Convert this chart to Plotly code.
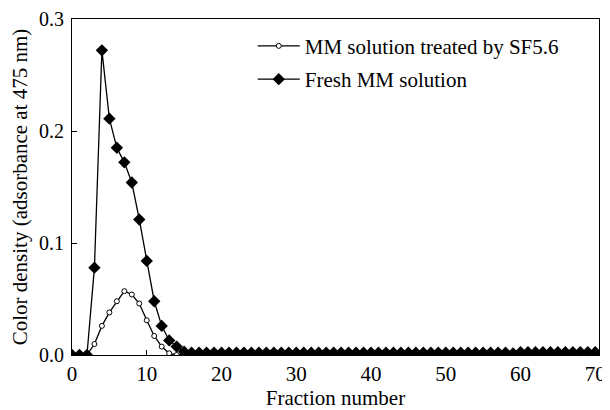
import plotly.graph_objects as go

fractions = list(range(0, 71))

fresh_head = [0.0, 0.0, 0.0, 0.078, 0.272, 0.211, 0.185, 0.172, 0.154, 0.121,
              0.084, 0.048, 0.026, 0.013, 0.0075, 0.003]
fresh_tail = [0.002] * (59 - 16) + [0.0015] + [0.0025] * 11
fresh = fresh_head + fresh_tail

treated_head = [0.0, 0.0, 0.0, 0.0098, 0.026, 0.038, 0.048, 0.057, 0.054, 0.046,
                0.031, 0.017, 0.0075, 0.0015, 0.0, 0.001]
treated_tail = [0.002] * (59 - 16) + [0.001] + [0.002] * 11
treated = treated_head + treated_tail

x_ticks = [0, 10, 20, 30, 40, 50, 60, 70]
y_ticks = [0.0, 0.1, 0.2, 0.3]
y_tick_text = ["0.0", "0.1", "0.2", "0.3"]

font = "Liberation Serif, Times New Roman, serif"

fig = go.Figure()
fig.add_trace(go.Scatter(
    x=fractions, y=treated, mode="lines+markers",
    name="MM solution treated by SF5.6", legendgroup="a",
    line=dict(color="black", width=1.3),
    marker=dict(symbol="circle", size=5, color="white",
                line=dict(color="black", width=1)),
))
fig.add_trace(go.Scatter(
    x=fractions, y=fresh, mode="lines+markers",
    name="Fresh MM solution", legendgroup="b",
    line=dict(color="black", width=1.3),
    marker=dict(symbol="diamond", size=9.5, color="black"),
))

# page body has an 8px margin: figure placed at (8,8)
fig.update_layout(
    width=602, height=402,
    margin=dict(l=64, r=11, t=11, b=55, autoexpand=False),
    paper_bgcolor="white", plot_bgcolor="white",
    font=dict(family=font, size=21, color="black"),
    showlegend=True,
    legend=dict(x=0.343, y=0.98, xanchor="left", yanchor="top",
                bgcolor="rgba(0,0,0,0)", font=dict(size=21),
                itemwidth=42, tracegroupgap=3),
    xaxis=dict(range=[0, 70.5], tickvals=x_ticks, ticks="inside", ticklen=5,
               tickcolor="black", showline=True, linecolor="black", linewidth=1,
               mirror=True, showgrid=False, zeroline=False,
               ticklabeloverflow="allow",
               title=dict(text="Fraction number", font=dict(size=21), standoff=3),
               tickfont=dict(size=21)),
    yaxis=dict(range=[0, 0.3], tickvals=y_ticks, ticktext=y_tick_text,
               ticks="inside", ticklen=5, tickcolor="black",
               showline=True, linecolor="black", linewidth=1, mirror=True,
               showgrid=False, zeroline=False, ticklabelstandoff=3,
               title=dict(text="Color density (adsorbance at 475 nm)",
                          font=dict(size=21), standoff=8),
               tickfont=dict(size=20)),
)

fig.write_html("out.html")
